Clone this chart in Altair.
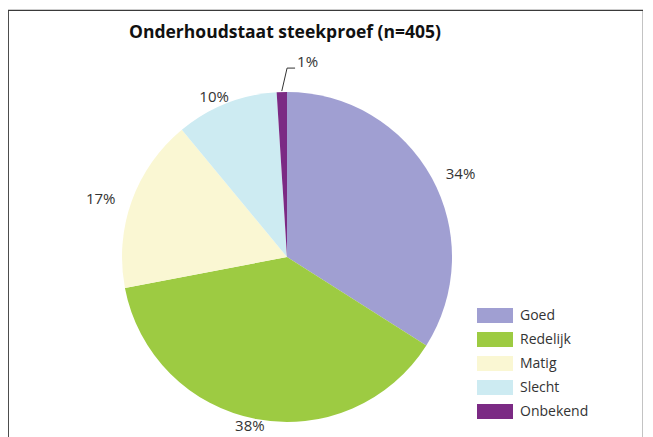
import altair as alt
import pandas as pd

# ---- data ----
categories = ["Goed", "Redelijk", "Matig", "Slecht", "Onbekend"]
percentages = [34, 38, 17, 10, 1]
colors = ["#a09fd2", "#9dcb42", "#faf7d3", "#cdebf2", "#7b2a84"]
title_text = "Onderhoudstaat steekproef (n=405)"

df = pd.DataFrame({
    "categorie": categories,
    "pct": percentages,
    "volgorde": list(range(len(categories))),
})

FONT = "Open Sans"
TEXT_COLOR = "#333333"
CX, CY, R = 279, 247, 165     # pie centre / radius in view pixels
RX, RY = 198, 172             # label ring

base = alt.Chart(df)

pie = base.mark_arc(outerRadius=R).encode(
    theta=alt.Theta("pct:Q", stack=True),
    color=alt.Color(
        "categorie:N",
        scale=alt.Scale(domain=categories, range=colors),
        legend=alt.Legend(
            title=None, orient="none", legendX=479.5, legendY=298,
            symbolType="M-2.4,-1H2.4V1H-2.4Z", symbolSize=225,
            symbolStrokeWidth=0, labelFont=FONT, labelFontSize=14,
            labelColor=TEXT_COLOR, labelOffset=17.5, rowPadding=9, padding=0,
        ),
    ),
    order=alt.Order("volgorde:Q"),
    x=alt.value(CX),
    y=alt.value(CY),
)

lab_base = base.transform_window(
    cum="sum(pct)", sort=[alt.SortField("volgorde")], frame=[None, 0]
).transform_joinaggregate(
    total="sum(pct)"
).transform_calculate(
    mid="2*PI*(datum.cum - datum.pct/2)/datum.total",
    small="datum.pct < 3",
    label="datum.pct + '%'",
)

big_labels = lab_base.transform_filter("!datum.small").transform_calculate(
    lx=f"{CX} + {RX}*sin(datum.mid)",
    ly=f"{CY} - {RY}*cos(datum.mid)",
).mark_text(font=FONT, fontSize=15, color=TEXT_COLOR).encode(
    x=alt.X("lx:Q", scale=None, axis=None),
    y=alt.Y("ly:Q", scale=None, axis=None),
    text="label:N",
)

small = lab_base.transform_filter("datum.small").transform_calculate(
    x1=f"{CX} + {R + 1}*sin(datum.mid)",
    y1=f"{CY} - {R + 1}*cos(datum.mid)",
    x2=f"{CX} + {R + 24}*sin(datum.mid) + 6",
    y2=f"{CY} - {R + 24}*cos(datum.mid)",
    x3=f"{CX} + {R + 24}*sin(datum.mid) + 14",
)

leader1 = small.mark_rule(color=TEXT_COLOR, strokeWidth=1).encode(
    x=alt.X("x1:Q", scale=None, axis=None),
    y=alt.Y("y1:Q", scale=None, axis=None),
    x2="x2:Q", y2="y2:Q",
)
leader2 = small.mark_rule(color=TEXT_COLOR, strokeWidth=1).encode(
    x=alt.X("x2:Q", scale=None, axis=None),
    y=alt.Y("y2:Q", scale=None, axis=None),
    x2="x3:Q",
)
small_label = small.mark_text(
    font=FONT, fontSize=15, color=TEXT_COLOR, align="left", dx=2, dy=-6
).encode(
    x=alt.X("x3:Q", scale=None, axis=None),
    y=alt.Y("y2:Q", scale=None, axis=None),
    text="label:N",
)

title = alt.Chart(pd.DataFrame({"t": [title_text]})).mark_text(
    font=FONT, fontSize=17.5, fontWeight="bold", color="#111111", baseline="alphabetic"
).encode(x=alt.value(277), y=alt.value(28), text="t:N")

chart = alt.layer(pie, big_labels, leader1, leader2, small_label, title).properties(
    width=635, height=428, autosize="none",
    padding={"left": 0, "top": 2, "right": 0, "bottom": 0},
).configure_view(stroke="#3a3a3a", strokeWidth=1.2)

chart.save("out.html", embed_options={"renderer": "svg", "actions": False})
